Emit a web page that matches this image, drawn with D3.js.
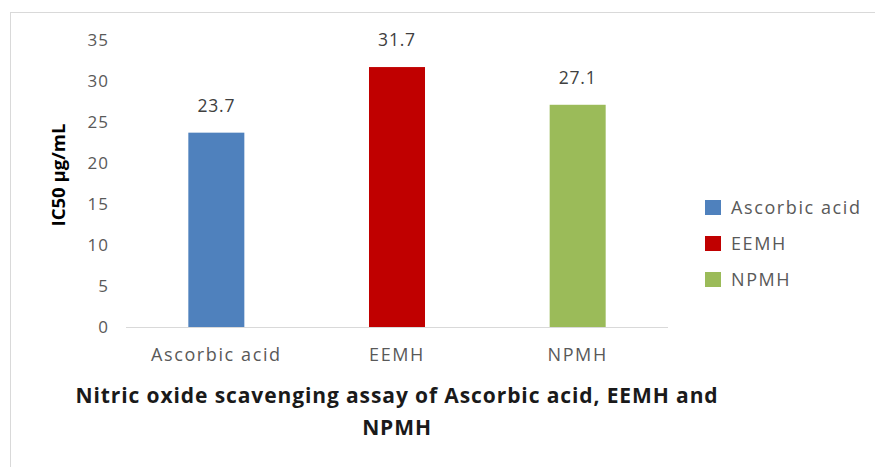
<!DOCTYPE html>
<html><head><meta charset="utf-8">
<script src="https://cdn.jsdelivr.net/npm/d3@7"></script>
<style>body{margin:0;background:#fff}svg{display:block}</style>
</head><body><svg id="c" width="875" height="467"></svg>
<script>
const categories = ["Ascorbic acid", "EEMH", "NPMH"];
const values = [23.7, 31.7, 27.1];
const colors = ["#4f81bd", "#c00000", "#9bbb59"];
const yTicks = [0, 5, 10, 15, 20, 25, 30, 35];
const titleLines = ["Nitric oxide scavenging assay of Ascorbic acid, EEMH and", "NPMH"];
const yTitle = "IC50 µg/mL";

const svg = d3.select("#c");
const font = "'Open Sans', sans-serif";
svg.append("rect").attr("x", 10.5).attr("y", 12.5).attr("width", 880).attr("height", 470)
  .attr("fill", "#fff").attr("stroke", "#d9d9d9");

const x = d3.scaleBand().domain(categories).range([126, 668]).paddingInner(0.69).paddingOuter(0.345);
const y = d3.scaleLinear().domain([0, 35]).range([327, 40]);

const yAxis = svg.append("g").attr("transform", "translate(109,0)")
  .call(d3.axisLeft(y).tickValues(yTicks).tickSize(0).tickPadding(0));
yAxis.select(".domain").remove();
yAxis.selectAll("text").attr("font-family", font).attr("font-size", 17).attr("fill", "#595959")
  .attr("letter-spacing", 1);

svg.append("line").attr("x1", 126).attr("x2", 668).attr("y1", y(0) + 0.5).attr("y2", y(0) + 0.5)
  .attr("stroke", "#d9d9d9").attr("stroke-width", 1);

svg.selectAll("rect.bar").data(values).join("rect").attr("class", "bar")
  .attr("x", (d, i) => x(categories[i])).attr("width", x.bandwidth())
  .attr("y", d => y(d)).attr("height", d => y(0) - y(d))
  .attr("fill", (d, i) => colors[i]);

svg.selectAll("text.val").data(values).join("text").attr("class", "val")
  .attr("x", (d, i) => x(categories[i]) + x.bandwidth() / 2).attr("y", d => y(d) - 21)
  .attr("text-anchor", "middle").attr("font-family", font).attr("font-size", 17.5)
  .attr("letter-spacing", 0.8).attr("fill", "#404040").text(d => d.toFixed(1));

const xAxis = svg.append("g").attr("transform", `translate(0,${y(0)})`)
  .call(d3.axisBottom(x).tickSize(0).tickPadding(21));
xAxis.select(".domain").remove();
xAxis.selectAll("text").attr("font-family", font).attr("font-size", 18).attr("fill", "#595959")
  .attr("letter-spacing", 1.6);

svg.append("text").attr("transform", "translate(65,175) rotate(-90)")
  .attr("text-anchor", "middle").attr("font-family", font).attr("font-weight", "bold")
  .attr("font-size", 18.5).attr("fill", "#000").text(yTitle);

svg.selectAll("text.title").data(titleLines).join("text").attr("class", "title")
  .attr("x", 397).attr("y", (d, i) => 403 + i * 32).attr("text-anchor", "middle")
  .attr("font-family", font).attr("font-weight", "bold").attr("font-size", 21)
  .attr("letter-spacing", 0.9).attr("fill", "#1a1a1a").text(d => d);

const leg = svg.append("g");
categories.forEach((c, i) => {
  const ly = 207 + i * 36;
  leg.append("rect").attr("x", 705).attr("y", ly - 7).attr("width", 16).attr("height", 15).attr("fill", colors[i]);
  leg.append("text").attr("x", 731).attr("y", ly + 6.5).attr("font-family", font)
    .attr("font-size", 18).attr("letter-spacing", 1.6).attr("fill", "#595959").text(c);
});
</script></body></html>
